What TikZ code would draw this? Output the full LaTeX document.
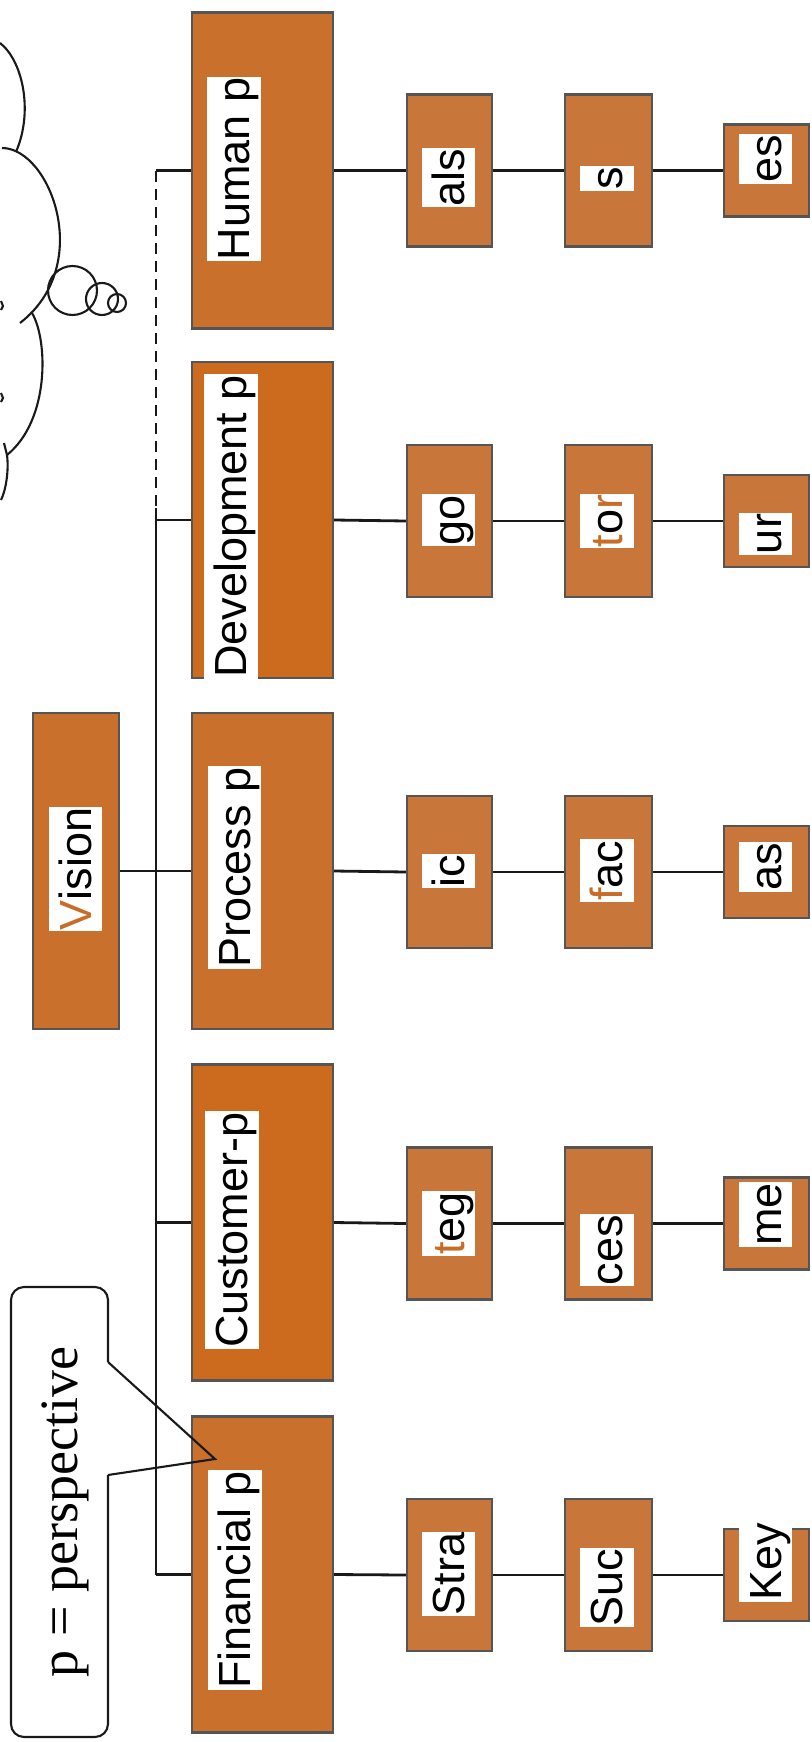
\documentclass[tikz,border=0pt]{standalone}
\usepackage{fontspec}
\newfontfamily\sansf{Liberation Sans}
\newfontfamily\seriff{Liberation Serif}
\definecolor{bigfill}{RGB}{200,112,44}
\definecolor{bigfilltwo}{RGB}{204,106,30}
\definecolor{smallfill}{RGB}{201,118,58}
\definecolor{edgegray}{RGB}{85,85,85}
\definecolor{orangetxt}{RGB}{200,108,40}
\newcommand{\oc}[1]{\textcolor{orangetxt}{#1}}
\begin{document}
\begin{tikzpicture}[x=1pt,y=-1pt,
  box/.style={draw=edgegray, line width=2.2pt, inner sep=0pt},
  bigbox/.style={box, fill=bigfill, minimum width=141pt, minimum height=316pt},
  visbox/.style={box, fill=bigfill, minimum width=86pt, minimum height=316pt},
  lvA/.style={box, fill=smallfill, minimum width=85pt, minimum height=152pt},
  lvB/.style={box, fill=smallfill, minimum width=87pt, minimum height=152pt},
  lvC/.style={box, fill=smallfill, minimum width=85pt, minimum height=92pt},
  lbl/.style={rotate=90, fill=white, inner xsep=1pt, inner ysep=1.8pt,
    text height=40.7pt, text depth=9.5pt,
    font=\sansf\fontsize{45pt}{54pt}\selectfont},
  conn/.style={line width=2.8pt, black!90},
  trunk/.style={line width=2.3pt, black!90},
  cloudline/.style={line width=2.1pt, black!90},
]
\useasboundingbox (0,0) rectangle (811,1742);

% ---- cloud (partly cut off at the left edge)
\draw[cloudline] (0,43) .. controls (22,60) and (34,110) .. (16,152);
\draw[cloudline] (2,148) .. controls (50,148) and (95,265) .. (20,323);
\draw[cloudline] (32,313) .. controls (48,340) and (50,420) .. (7,455);
\draw[cloudline] (4,443) -- (7,455);
\draw[cloudline] (7,455) .. controls (9,470) and (6,490) .. (1,500);
\draw[cloudline] (1,301) -- (3,306) -- (1,310);
\draw[cloudline] (1,393) -- (3,398) -- (1,402);
\draw[cloudline] (72.5,290.5) circle (24.5);
\draw[cloudline] (102,299) circle (16);
\draw[cloudline] (117,303) circle (9);

% ---- boxes
\node[visbox] (vis) at (76,871) {};
\node[bigbox] (hum) at (262.5,170.5) {};
\node[bigbox, fill=bigfilltwo] (dev) at (262.5,520) {};
\node[bigbox] (pro) at (262.5,871) {};
\node[bigbox, fill=bigfilltwo] (cus) at (262.5,1222.5) {};
\node[bigbox] (fin) at (262.5,1574.5) {};

\node[lvA] (a1) at (449.5,170.5) {};
\node[lvA] (a2) at (449.5,521) {};
\node[lvA] (a3) at (449.5,872) {};
\node[lvA] (a4) at (449.5,1223.5) {};
\node[lvA] (a5) at (449.5,1575) {};

\node[lvB] (b1) at (608.5,170.5) {};
\node[lvB] (b2) at (608.5,521) {};
\node[lvB] (b3) at (608.5,872) {};
\node[lvB] (b4) at (608.5,1223.5) {};
\node[lvB] (b5) at (608.5,1575) {};

\node[lvC] (c1) at (766.5,170.5) {};
\node[lvC] (c2) at (766.5,521) {};
\node[lvC] (c3) at (766.5,872) {};
\node[lvC] (c4) at (766.5,1223.5) {};
\node[lvC] (c5) at (766.5,1575) {};

% ---- labels
\node[lbl] (vis-t) at (75.5,869) {\oc{V}ision};
\node[lbl] (hum-t) at (234,169) {Human p};
\node[lbl] (dev-t) at (231,526.5) {Development p};
\node[lbl] (pro-t) at (234.5,867.5) {Process p};
\node[lbl] (cus-t) at (232,1230) {Customer-p};
\node[lbl] (fin-t) at (235,1580) {Financial p};

\node[lbl] (a1-t) at (448.5,177.5) {als};
\node[lbl] (a2-t) at (448.5,520) {go};
\node[lbl] (a3-t) at (448.5,871) {ic};
\node[lbl] (a4-t) at (448.5,1223.5) {\oc{t}eg};
\node[lbl] (a5-t) at (448.5,1574) {Stra};

\node[lbl] (b1-t) at (607,178.5) {s};
\node[lbl] (b2-t) at (607,521) {\oc{t}o\oc{r}};
\node[lbl] (b3-t) at (607,870.5) {\oc{f}ac};
\node[lbl] (b4-t) at (607,1250) {ces};
\node[lbl] (b5-t) at (607,1587.5) {Suc};

\node[lbl] (c1-t) at (765.5,159) {es};
\node[lbl] (c2-t) at (765.5,534) {ur};
\node[lbl] (c3-t) at (765.5,867) {as};
\node[lbl] (c4-t) at (765.5,1214.5) {me};
\node[lbl] (c5-t) at (765.5,1562) {Key};

% ---- trunk
\coordinate (t1) at (156,170.5);
\coordinate (td) at (156,508);
\coordinate (t2) at (156,520);
\coordinate (t4) at (156,1222.5);
\coordinate (t5) at (156,1574.5);
\draw[conn] (t1) -- (hum.west);
\draw[trunk, dash pattern=on 11pt off 7pt] (t1) -- (td);
\draw[trunk] (td) -- (t5);
\draw[conn] (t5) -- (fin.west);
\draw[conn] (t2) -- (dev.west);
\draw[conn] (t4) -- (cus.west);
\draw[conn] (vis.east) -- (pro.west);

% ---- rows
\draw[conn] (hum.east) -- (a1.west);
\draw[conn] (a1.east) -- (b1.west);
\draw[conn] (b1.east) -- (c1.west);
\draw[conn] (dev.east) -- (a2.west);
\draw[conn] (a2.east) -- (b2.west);
\draw[conn] (b2.east) -- (c2.west);
\draw[conn] (pro.east) -- (a3.west);
\draw[conn] (a3.east) -- (b3.west);
\draw[conn] (b3.east) -- (c3.west);
\draw[conn] (cus.east) -- (a4.west);
\draw[conn] (a4.east) -- (b4.west);
\draw[conn] (b4.east) -- (c4.west);
\draw[conn] (fin.east) -- (a5.west);
\draw[conn] (a5.east) -- (b5.west);
\draw[conn] (b5.east) -- (c5.west);

% ---- callout
\coordinate (tip) at (215,1459);
\draw[cloudline, rounded corners=13pt] (108,1362) -- (108,1287) -- (11,1287) -- (11,1737) -- (108,1737) -- (108,1475);
\draw[cloudline] (108,1475) -- (tip) -- (108,1362);
\node[rotate=90, inner sep=0pt, font=\seriff\fontsize{54pt}{60pt}\selectfont] (note) at (65,1512) {p = perspective};
\end{tikzpicture}
\end{document}
